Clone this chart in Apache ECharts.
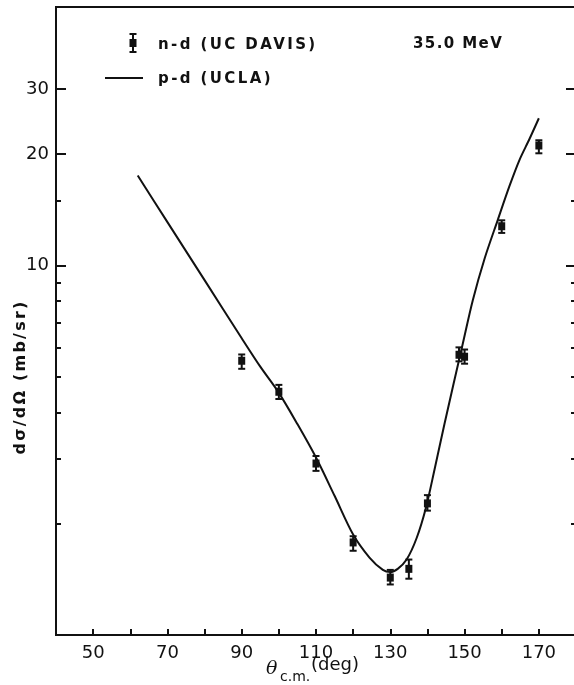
<!DOCTYPE html>
<html><head><meta charset="utf-8">
<script src="https://cdn.jsdelivr.net/npm/echarts@6/dist/echarts.min.js"></script>
<style>html,body{margin:0;padding:0;background:#fff}#c{width:574px;height:685px}</style>
</head><body><div id="c"></div>
<script>
// ---- data ----
const curveAngles = [62, 70, 80, 90, 95, 100, 105, 110, 115, 120, 124.4, 128, 130, 132, 134.4, 137.1, 139.6, 141.9, 144.6, 149.5, 152.2, 155.4, 158.9, 162.1, 164.8, 167.5, 170.0];
const curveValues = [17.5, 13.09, 9.12, 6.35, 5.32, 4.52, 3.72, 3.02, 2.38, 1.87, 1.62, 1.50, 1.48, 1.51, 1.60, 1.83, 2.21, 2.80, 3.73, 6.13, 8.04, 10.44, 13.24, 16.4, 19.3, 22.0, 25.0];

const pointAngles = [90, 100, 110, 120, 130, 135, 140, 148.5, 150, 160, 170];
const pointValues = [5.52, 4.55, 2.91, 1.78, 1.43, 1.51, 2.27, 5.73, 5.66, 12.76, 21.1];
const pointLow    = [5.25, 4.35, 2.78, 1.69, 1.37, 1.42, 2.17, 5.50, 5.42, 12.24, 20.1];
const pointHigh   = [5.74, 4.75, 3.05, 1.85, 1.50, 1.60, 2.39, 6.00, 5.92, 13.24, 21.8];

const xTickLabels = [50, 70, 90, 110, 130, 150, 170];
const yTickLabels = [10, 20, 30];
const yMinorTicks = [2, 3, 4, 5, 6, 7, 8, 9, 15];

const legendPoints = 'n-d (UC DAVIS)';
const legendCurve = 'p-d (UCLA)';
const energyLabel = '35.0 MeV';
const yTitle = 'dσ/dΩ (mb/sr)';

// wide letter tracking for the typewritten-style captions
const tracking = {};
tracking[legendPoints] = 2.4;
tracking[legendCurve] = 2.4;
tracking[energyLabel] = 1.4;
tracking[yTitle] = 2.2;
(function () {
  const proto = CanvasRenderingContext2D.prototype;
  const origFill = proto.fillText;
  proto.fillText = function (t, x, y, w) {
    if ('letterSpacing' in this) {
      this.letterSpacing = (tracking[t] || 0) + 'px';
    }
    return w === undefined ? origFill.call(this, t, x, y) : origFill.call(this, t, x, y, w);
  };
})();

// ---- chart ----
const INK = '#111';
const FONT = 'DejaVu Sans';
const chart = echarts.init(document.getElementById('c'), null, {renderer: 'canvas'});

function yAxisDef(pos, ticks, len, showLine, withLabels) {
  return {
    type: 'log', logBase: 10, min: 1, max: 50, position: pos,
    axisLine: {show: showLine, lineStyle: {color: INK, width: 2}},
    axisTick: {show: true, inside: true, length: len, customValues: ticks, lineStyle: {color: INK, width: 2}},
    axisLabel: withLabels ? {show: true, customValues: ticks, margin: 7, color: INK, fontFamily: FONT, fontSize: 18,
                             formatter: v => String(Math.round(v))} : {show: false},
    splitLine: {show: false}, minorTick: {show: false}, minorSplitLine: {show: false}
  };
}

function renderErr(params, api) {
  const x = api.value(0);
  const c = api.coord([x, api.value(1)]);
  const lo = api.coord([x, api.value(2)]);
  const hi = api.coord([x, api.value(3)]);
  const cw = 3.5;
  const st = {stroke: INK, lineWidth: 2};
  return {type: 'group', children: [
    {type: 'line', shape: {x1: c[0], y1: hi[1], x2: c[0], y2: lo[1]}, style: st},
    {type: 'line', shape: {x1: c[0] - cw, y1: hi[1], x2: c[0] + cw, y2: hi[1]}, style: st},
    {type: 'line', shape: {x1: c[0] - cw, y1: lo[1], x2: c[0] + cw, y2: lo[1]}, style: st},
    {type: 'rect', shape: {x: c[0] - 3.5, y: c[1] - 4, width: 7, height: 8}, style: {fill: INK}}
  ]};
}

function txt(x, y, s, size, opts) {
  opts = opts || {};
  return {type: 'text', x: x, y: y, rotation: opts.rot || 0, silent: true,
    style: {text: s, fill: INK, font: (opts.style || '') + ' ' + size + 'px ' + (opts.family || FONT),
      align: opts.align || 'left', textAlign: opts.align || 'left',
      verticalAlign: 'middle', textVerticalAlign: 'middle'}};
}

const option = {
  animation: false,
  backgroundColor: '#fff',
  grid: {left: 56, top: 7, width: 520, height: 628, show: true, borderColor: INK, borderWidth: 2,
         containLabel: false, outerBoundsMode: 'none'},
  xAxis: {
    type: 'value', min: 40, max: 180, interval: 10, position: 'bottom',
    axisLine: {lineStyle: {color: INK, width: 2}},
    axisTick: {inside: true, length: 6, lineStyle: {color: INK, width: 2}},
    axisLabel: {customValues: xTickLabels, margin: 9, color: INK, fontFamily: FONT, fontSize: 18},
    splitLine: {show: false}
  },
  yAxis: [
    yAxisDef('left', yTickLabels, 10, true, true),
    yAxisDef('left', yMinorTicks, 5, false, false),
    yAxisDef('right', yTickLabels, 10, false, false),
    yAxisDef('right', yMinorTicks, 5, false, false)
  ],
  series: [
    {type: 'line', name: legendCurve, data: curveAngles.map((a, i) => [a, curveValues[i]]),
     smooth: 0.3, showSymbol: false, silent: true, lineStyle: {color: INK, width: 2}, z: 2},
    {type: 'custom', name: legendPoints, renderItem: renderErr, silent: true, z: 3,
     encode: {x: 0, y: 1},
     data: pointAngles.map((a, i) => [a, pointValues[i], pointLow[i], pointHigh[i]])}
  ],
  graphic: [
    // legend: error-bar sample
    {type: 'group', x: 133, y: 43, silent: true, children: [
      {type: 'line', shape: {x1: 0, y1: -9, x2: 0, y2: 9}, style: {stroke: INK, lineWidth: 2}},
      {type: 'line', shape: {x1: -3.5, y1: -9, x2: 3.5, y2: -9}, style: {stroke: INK, lineWidth: 2}},
      {type: 'line', shape: {x1: -3.5, y1: 9, x2: 3.5, y2: 9}, style: {stroke: INK, lineWidth: 2}},
      {type: 'rect', shape: {x: -3.5, y: -4, width: 7, height: 8}, style: {fill: INK}}
    ]},
    txt(158, 45, legendPoints, 15, {style: 'bold'}),
    {type: 'line', silent: true, shape: {x1: 105, y1: 78, x2: 143, y2: 78}, style: {stroke: INK, lineWidth: 2}},
    txt(158, 79, legendCurve, 15, {style: 'bold'}),
    txt(413, 44, energyLabel, 15, {style: 'bold'}),
    // axis titles
    txt(21, 377, yTitle, 16, {rot: Math.PI / 2, align: 'center', style: 'bold'}),
    txt(266, 669, 'θ', 19, {family: 'DejaVu Serif', style: 'italic'}),
    txt(280, 677, 'c.m.', 14),
    txt(311, 665, '(deg)', 18)
  ]
};
chart.setOption(option);
</script>
</body></html>
